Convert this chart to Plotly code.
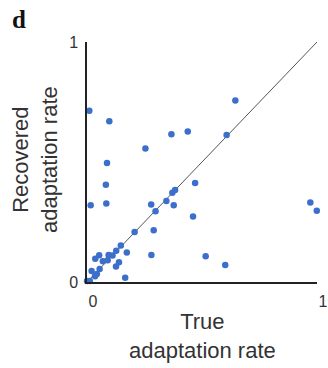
import plotly.graph_objects as go

true_rate = [0.010, 0.097, 0.645, 0.367, 0.438, 0.607, 0.254, 0.087, 0.082, 0.470,
             0.016, 0.084, 0.279, 0.345, 0.371, 0.383, 0.377, 0.298, 0.461, 0.971,
             0.999, 0.290, 0.207, 0.147, 0.173, 0.280, 0.516, 0.601, 0.166, 0.127,
             0.111, 0.094, 0.053, 0.036, 0.069, 0.090, 0.139, 0.126, 0.055, 0.020,
             0.043, 0.035, 0.000, 0.012]
recovered_rate = [0.714, 0.670, 0.756, 0.616, 0.627, 0.613, 0.556, 0.496, 0.405, 0.412,
                  0.320, 0.327, 0.323, 0.338, 0.372, 0.383, 0.320, 0.295, 0.273, 0.331,
                  0.297, 0.216, 0.208, 0.152, 0.123, 0.113, 0.107, 0.071, 0.018, 0.130,
                  0.110, 0.113, 0.111, 0.097, 0.086, 0.091, 0.082, 0.065, 0.054, 0.046,
                  0.033, 0.024, 0.004, 0.004]
identity = [0, 1]
tick_vals = [0, 1]
tick_text = ["0", "1"]

fig = go.Figure()
fig.add_trace(go.Scatter(x=identity, y=identity, mode="lines",
                         line=dict(color="#555555", width=1), hoverinfo="skip",
                         showlegend=False))
fig.add_trace(go.Scatter(x=true_rate, y=recovered_rate, mode="markers",
                         marker=dict(color="#3B6FCB", size=6.5),
                         cliponaxis=False, showlegend=False))

axis_common = dict(range=[0, 1], showgrid=False, zeroline=False, showline=True,
                   linecolor="#222222", linewidth=1.5, ticks="", automargin=False,
                   tickvals=tick_vals, ticktext=tick_text,
                   tickfont=dict(family="Liberation Sans, Arial", size=16, color="#333333"))

fig.update_layout(
    template="none",
    width=328, height=368,
    margin=dict(l=87, r=11, t=42, b=86),
    paper_bgcolor="white", plot_bgcolor="white",
    xaxis=dict(**axis_common, ticklabelshift=6, ticklabelstandoff=4),
    yaxis=dict(**axis_common, ticklabelstandoff=4),
    annotations=[
        dict(text="<b>d</b>", xref="paper", yref="paper", x=-0.335, y=1.16,
             xanchor="left", yanchor="top", showarrow=False,
             font=dict(family="Liberation Serif, Times New Roman", size=25, color="#111111")),
        dict(text="True<br>adaptation rate", xref="paper", yref="paper", x=0.5, y=0,
             xanchor="center", yanchor="middle", yshift=-54, xshift=0, showarrow=False,
             font=dict(family="Liberation Sans, Arial", size=22, color="#333333")),
        dict(text="Recovered<br>adaptation rate", xref="paper", yref="paper", x=0, y=0.5,
             xanchor="center", yanchor="middle", xshift=-52, yshift=2, textangle=-90,
             showarrow=False,
             font=dict(family="Liberation Sans, Arial", size=22, color="#333333")),
    ],
)

fig.write_html("out.html")
